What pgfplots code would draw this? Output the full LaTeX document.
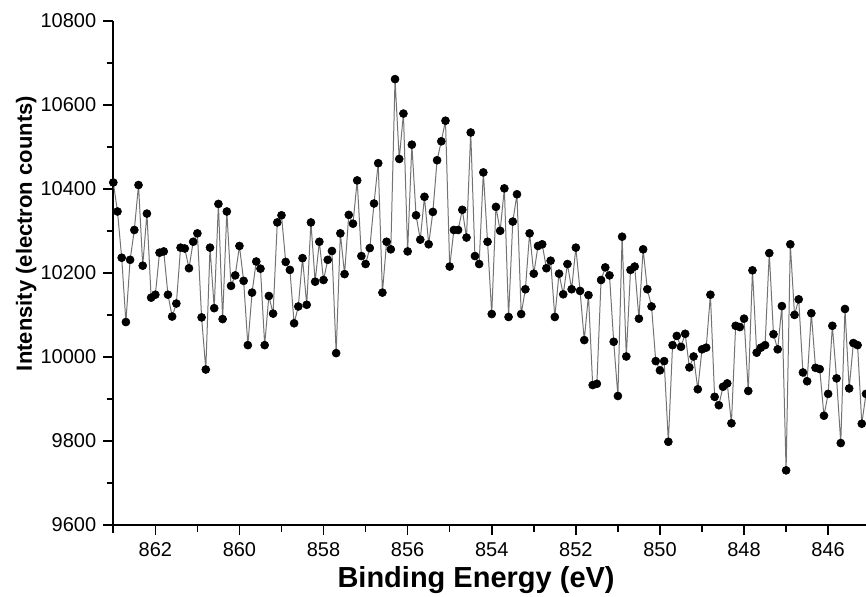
\documentclass[border=0pt]{standalone}
\usepackage{fontspec}
\setmainfont{Liberation Sans}
\usepackage{pgfplots}
\usepackage{pgfplotstable}
\pgfplotsset{compat=1.18}

% XPS scan, 0.1 eV steps from 863.0 eV down
\pgfplotstableread{
E I
863.0 10415
862.9 10346
862.8 10236
862.7 10083
862.6 10231
862.5 10302
862.4 10409
862.3 10217
862.2 10341
862.1 10141
862.0 10148
861.9 10248
861.8 10251
861.7 10148
861.6 10096
861.5 10127
861.4 10260
861.3 10258
861.2 10211
861.1 10274
861.0 10294
860.9 10094
860.8 9970
860.7 10260
860.6 10116
860.5 10364
860.4 10090
860.3 10346
860.2 10169
860.1 10194
860.0 10264
859.9 10181
859.8 10028
859.7 10153
859.6 10227
859.5 10210
859.4 10028
859.3 10145
859.2 10103
859.1 10320
859.0 10337
858.9 10226
858.8 10207
858.7 10080
858.6 10120
858.5 10235
858.4 10124
858.3 10320
858.2 10179
858.1 10274
858.0 10183
857.9 10231
857.8 10252
857.7 10009
857.6 10294
857.5 10197
857.4 10338
857.3 10317
857.2 10420
857.1 10240
857.0 10221
856.9 10259
856.8 10365
856.7 10461
856.6 10153
856.5 10274
856.4 10256
856.3 10661
856.2 10471
856.1 10579
856.0 10251
855.9 10505
855.8 10337
855.7 10279
855.6 10381
855.5 10268
855.4 10345
855.3 10468
855.2 10513
855.1 10562
855.0 10215
854.9 10302
854.8 10302
854.7 10350
854.6 10284
854.5 10534
854.4 10240
854.3 10221
854.2 10439
854.1 10274
854.0 10102
853.9 10357
853.8 10300
853.7 10401
853.6 10095
853.5 10322
853.4 10387
853.3 10102
853.2 10161
853.1 10294
853.0 10198
852.9 10264
852.8 10268
852.7 10211
852.6 10229
852.5 10095
852.4 10198
852.3 10149
852.2 10221
852.1 10161
852.0 10260
851.9 10157
851.8 10040
851.7 10147
851.6 9933
851.5 9936
851.4 10183
851.3 10213
851.2 10194
851.1 10036
851.0 9907
850.9 10286
850.8 10001
850.7 10207
850.6 10215
850.5 10091
850.4 10256
850.3 10161
850.2 10120
850.1 9990
850.0 9968
849.9 9990
849.8 9798
849.7 10028
849.6 10050
849.5 10024
849.4 10055
849.3 9975
849.2 10001
849.1 9923
849.0 10018
848.9 10022
848.8 10148
848.7 9905
848.6 9885
848.5 9929
848.4 9937
848.3 9842
848.2 10074
848.1 10071
848.0 10091
847.9 9919
847.8 10206
847.7 10010
847.6 10022
847.5 10028
847.4 10247
847.3 10054
847.2 10018
847.1 10121
847.0 9730
846.9 10268
846.8 10100
846.7 10137
846.6 9963
846.5 9942
846.4 10104
846.3 9974
846.2 9971
846.1 9860
846.0 9912
845.9 10074
845.8 9949
845.7 9795
845.6 10114
845.5 9925
845.4 10033
845.3 10028
845.2 9841
845.1 9912
}\xps

\begin{document}
\begin{tikzpicture}
\useasboundingbox (-56.65pt,-35.5pt) rectangle (376.35pt,262.5pt);
\clip (-56.65pt,-35.5pt) rectangle (376.35pt,262.5pt);
\begin{axis}[
    scale only axis,
    width=376.35pt,
    height=252.15pt,
    x dir=reverse,
    xmin=845.1, xmax=863,
    ymin=9600, ymax=10800,
    axis x line*=bottom,
    axis y line*=left,
    axis line style={line width=1pt},
    every outer y axis line/.append style={shorten <=-4pt},
    xtick={846,848,...,862},
    ytick={9600,9800,...,10800},
    scaled ticks=false,
    minor x tick num=1,
    minor y tick num=1,
    tick align=outside,
    major tick length=5pt,
    minor tick length=3.3pt,
    tick style={line width=0.8pt, black},
    /pgf/number format/assume math mode=true,
    /pgf/number format/1000 sep={},
    ticklabel style={font=\fontsize{10}{12}\selectfont},
    xlabel={Binding Energy (eV)},
    ylabel={Intensity (electron counts)},
    xlabel style={font=\fontsize{14.5}{16}\selectfont\bfseries,
        at={(axis description cs:0.482,-0.123)}, anchor=base},
    ylabel style={font=\fontsize{11}{13}\selectfont\bfseries,
        at={(axis description cs:-0.108,0.578)}, anchor=base},
]
\addplot[black!55, line width=0.5pt,
    mark=*, mark size=2pt,
    mark options={fill=black, draw=black, line width=0.3pt}]
    table[x=E, y=I] {\xps};
\end{axis}
\end{tikzpicture}
\end{document}
